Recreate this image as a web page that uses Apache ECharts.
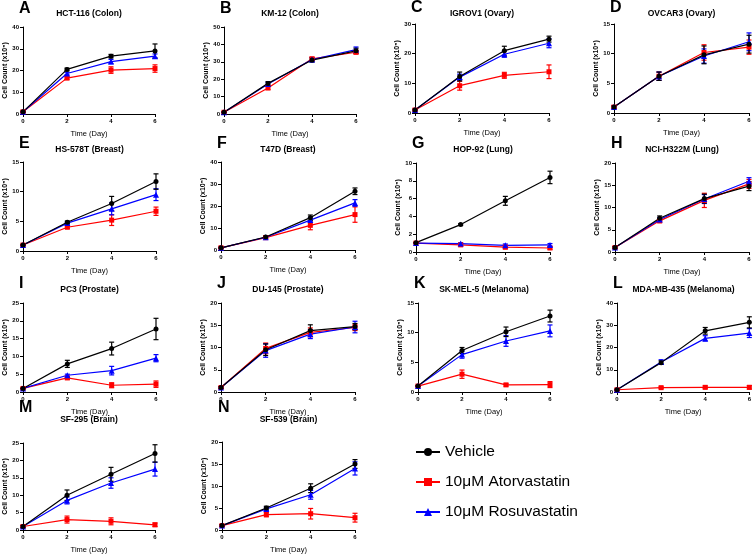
<!DOCTYPE html>
<html><head><meta charset="utf-8">
<script src="https://cdn.jsdelivr.net/npm/echarts@6/dist/echarts.min.js"></script>
<style>html,body{margin:0;padding:0;background:#fff}#c{width:754px;height:558px}</style>
</head><body><div id="c"></div>
<script>
// ---- data ----
const days = [0, 2, 4, 6];
const xTicks = [0, 2, 4, 6];
const panelLetters = ['A','B','C','D','E','F','G','H','I','J','K','L','M','N'];
const panelTitles = ['HCT-116 (Colon)','KM-12 (Colon)','IGROV1 (Ovary)','OVCAR3 (Ovary)',
  'HS-578T (Breast)','T47D (Breast)','HOP-92 (Lung)','NCI-H322M (Lung)',
  'PC3 (Prostate)','DU-145 (Prostate)','SK-MEL-5 (Melanoma)','MDA-MB-435 (Melanoma)',
  'SF-295 (Brain)','SF-539 (Brain)'];
const yMaxes = [40,50,30,15,15,40,10,20,25,20,15,40,25,20];
const yIntervals = [10,10,10,5,5,10,2,5,5,5,5,10,5,5];
const seriesNames = ['Vehicle','10\u03BCM Atorvastatin','10\u03BCM Rosuvastatin'];

const vehicleMean = [
  [1,20.5,26.6,29],[1,17.6,31,36.3],[1,12.3,21,24.9],[1,6.2,9.8,11.6],
  [1,4.85,8.0,11.7],[1,5.9,14.7,26.7],[1.05,3.08,5.75,8.38],[1,7.6,12.0,14.8],
  [1,7.9,12.2,17.7],[1,9.5,13.8,14.7],[1,7.0,10.15,12.8],[1,13.2,27.5,31.3],
  [1,10,16,22],[1,5,9.5,15]];
const vehicleErr = [
  [0.3,0.6,0.8,3.2],[0.3,1,1.2,1.5],[0.3,1.5,1.5,1],[0.2,0.7,1.5,1.5],
  [0.1,0.2,1.2,1.3],[0.3,0.5,1.2,1.5],[0.05,0.1,0.5,0.7],[0.2,0.5,1,1],
  [0.1,1,1.8,3],[0.2,1.3,1.3,0.7],[0.1,0.5,0.8,1],[0.3,0.8,1.5,2.5],
  [0.3,1.5,2,2.5],[0.2,0.4,1,1]];
const atorMean = [
  [1,16.5,20.2,20.9],[1,15,31.7,35.5],[1,9.2,12.7,13.9],[1,6.2,10.2,11.1],
  [1,4.0,5.2,6.7],[1,5.6,11.2,16.1],[1,0.8,0.55,0.45],[1,7.0,11.6,15.3],
  [1,3.95,1.9,2.2],[1,9.8,13.4,14.5],[1,3.0,1.2,1.25],[1,1.95,2.1,2.1],
  [1,3,2.5,1.5],[1,3.5,3.7,2.8]];
const atorErr = [
  [0.3,0.6,1.5,1.7],[0.3,1,1,1],[0.3,1.5,1,2.3],[0.2,0.7,1.3,1.2],
  [0.1,0.2,0.9,0.7],[0.3,0.5,2,3.5],[0.05,0.1,0.2,0.15],[0.2,0.4,1.6,1],
  [0.1,0.4,0.7,0.9],[0.2,1.2,1,0.7],[0.1,0.7,0.2,0.5],[0.2,0.4,0.6,0.8],
  [0.2,1,1,0.5],[0.2,0.5,1.2,1]];
const rosuMean = [
  [1,18.6,24.1,26.6],[1,17.2,31.3,37],[1,12.1,19.8,23.5],[1,6.2,9.6,12.0],
  [1,4.7,7.1,9.5],[1,5.8,13.6,21.4],[1,0.95,0.75,0.8],[1,7.3,11.9,15.9],
  [1,4.7,6.0,9.5],[1,9.3,13.0,14.6],[1,6.3,8.6,10.3],[1,13.5,24.1,26.5],
  [1,8.5,13.5,17.5],[1,4.8,8,14]];
const rosuErr = [
  [0.3,0.6,1,1],[0.3,1,1,1.5],[0.3,1,1,1.5],[0.2,0.7,1.2,1.5],
  [0.1,0.2,1,1],[0.3,0.4,1,1.5],[0.05,0.1,0.15,0.15],[0.2,0.4,1,0.8],
  [0.1,0.3,1.2,1],[0.2,1.5,1,1.3],[0.1,0.6,0.9,1],[0.3,1,1.2,2],
  [0.3,1,1.5,2],[0.2,0.4,1,1.5]];

// ---- layout ----
const grids = [
  [23,27,132,87],[224,27,132,87],[415,24,134,89],[614,24,135,89],
  [23,162,133,89],[221,162,134,88],[416,163,134,89],[615,163,134,89],
  [23,303,133,89],[221,303,134,89],[418,303,132,89],[617,303,133,89],
  [23,443,132,87],[222,442,133,88]];
const letterTops = [1,1,0,0,136,136,136,136,276,276,276,276,400,400];
const titleTops = [9,9,9,9,145,145,145,145,285,285,285,285,415,415];
const colors = ['#000000','#ff0000','#0000ff'];
const symbols = ['circle','rect','triangle'];

const means = [vehicleMean, atorMean, rosuMean];
const errs = [vehicleErr, atorErr, rosuErr];

function errRender(color){
  return function(params, api){
    const x = api.value(0), lo = api.value(1), hi = api.value(2);
    const p1 = api.coord([x, lo]), p2 = api.coord([x, hi]);
    const w = 2.5;
    const st = {stroke: color, lineWidth: 1.2};
    return {type:'group', children:[
      {type:'line', shape:{x1:p1[0],y1:p1[1],x2:p2[0],y2:p2[1]}, style:st},
      {type:'line', shape:{x1:p1[0]-w,y1:p1[1],x2:p1[0]+w,y2:p1[1]}, style:st},
      {type:'line', shape:{x1:p2[0]-w,y1:p2[1],x2:p2[0]+w,y2:p2[1]}, style:st}
    ]};
  };
}

const option = {
  backgroundColor:'#fff',
  animation:false,
  textStyle:{fontFamily:'Liberation Sans, Arial, sans-serif'},
  title:[], grid:[], xAxis:[], yAxis:[], series:[],
  legend:{
    data: seriesNames, orient:'vertical', left:410, top:439, itemGap:14,
    itemWidth:24, itemHeight:10,
    textStyle:{fontSize:15.5, color:'#000', fontFamily:'Liberation Sans, Arial, sans-serif'}
  }
};

grids.forEach((g, i) => {
  const [l, t, w, h] = g;
  option.grid.push({left:l, top:t, width:w, height:h, containLabel:false});
  option.title.push({text: panelLetters[i], left: l-4, top: letterTops[i], padding:0,
    textStyle:{fontSize:16, fontWeight:'bold', color:'#000'}});
  option.title.push({text: panelTitles[i], left: l + w/2, top: titleTops[i], textAlign:'center', padding:0,
    textStyle:{fontSize:8.5, fontWeight:'bold', color:'#000'}});
  option.xAxis.push({gridIndex:i, type:'value', min:0, max:6, interval:2,
    name:'Time (Day)', nameLocation:'middle', nameGap:16,
    nameTextStyle:{fontSize:7.5, color:'#000'},
    axisLine:{lineStyle:{color:'#000', width:1}},
    axisTick:{lineStyle:{color:'#000'}, length:3},
    axisLabel:{fontSize:6, color:'#000', margin:4, fontWeight:'bold'},
    splitLine:{show:false}});
  option.yAxis.push({gridIndex:i, type:'value', min:0, max:yMaxes[i], interval:yIntervals[i],
    name:'Cell Count (x10\u2075)', nameLocation:'middle', nameGap:13,
    nameTextStyle:{fontSize:7, color:'#000', fontWeight:'bold'},
    axisLine:{show:true, lineStyle:{color:'#000', width:1}},
    axisTick:{show:true, lineStyle:{color:'#000'}, length:3},
    axisLabel:{fontSize:6, color:'#000', margin:4, fontWeight:'bold'},
    splitLine:{show:false}});
  [1,2,0].forEach(s => {
    const m = means[s][i], e = errs[s][i];
    option.series.push({
      type:'custom', name:'err'+s, xAxisIndex:i, yAxisIndex:i, z:2,
      renderItem: errRender(colors[s]),
      data: days.map((d,k) => [d, m[k]-e[k], m[k]+e[k]]),
      silent:true
    });
    option.series.push({
      type:'line', name: seriesNames[s], xAxisIndex:i, yAxisIndex:i, z:3,
      data: days.map((d,k) => [d, m[k]]),
      symbol: symbols[s], symbolSize: s===2 ? 6 : 5, showAllSymbol:true,
      lineStyle:{color:colors[s], width:1.2},
      itemStyle:{color:colors[s]}
    });
  });
});

const chart = echarts.init(document.getElementById('c'), null, {renderer:'canvas'});
chart.setOption(option);
</script></body></html>
